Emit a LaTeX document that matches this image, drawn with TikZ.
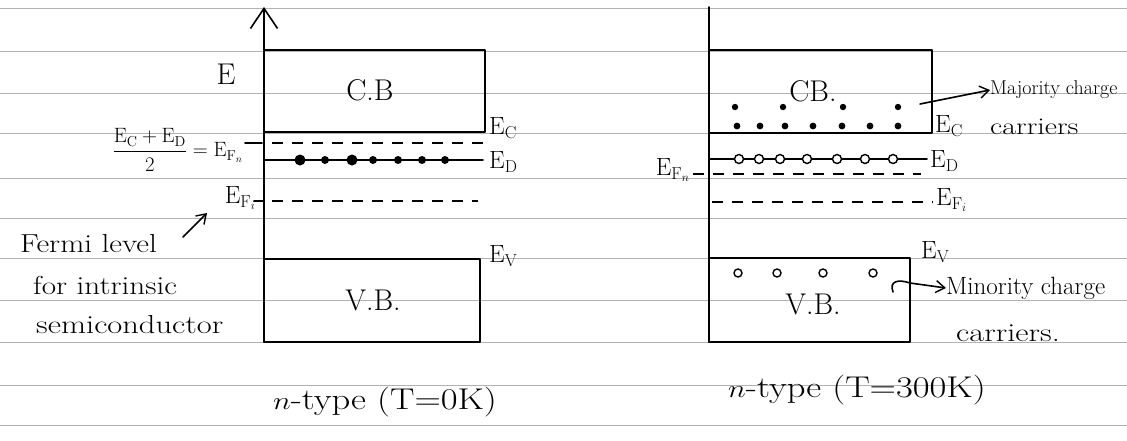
\documentclass[tikz,border=0pt]{standalone}
\usepackage{amsmath}
\usetikzlibrary{arrows.meta}
\newcommand{\wide}[2]{\scalebox{#1}[1]{#2}}
\begin{document}
\begin{tikzpicture}[x=1pt,y=-1pt,
  ink/.style={line width=1.6pt, black, line join=round, line cap=round},
  rule/.style={line width=0.9pt, black!30},
  lvl/.style={line width=1.5pt, black, dash pattern=on 11pt off 9pt},
  lbl/.style={font=\fontsize{24}{28}\selectfont, inner sep=0pt},
  big/.style={font=\fontsize{30}{34}\selectfont, inner sep=0pt},
  note/.style={font=\fontsize{26}{30}\selectfont, inner sep=0pt, anchor=west},
  captxt/.style={font=\fontsize{30}{34}\selectfont, inner sep=0pt},
  barb/.style={-{Straight Barb[length=9pt,width=12pt,line width=1.4pt]}},
  odot/.style={draw=black, line width=1.4pt, fill=white}
]
\useasboundingbox (0,0) rectangle (1127,440);
\fill[white] (0,0) rectangle (1127,440);
% ruled paper
\foreach \y in {8,51,93,133,178,218,258,300,342,385,425}
  \draw[rule] (0,\y) -- (1127,\y);

% ===================== left diagram (T = 0 K) =====================
\coordinate (ax1b) at (264,342);
\coordinate (ax1t) at (264,7);
\draw[ink,-{Straight Barb[length=20pt,width=27pt,line width=1.6pt]}] (ax1b) -- (ax1t);
\draw[ink] (264,50) rectangle (485,132);
\draw[ink] (264,259) rectangle (480,342);
\node[big] (E) at (226,74) {E};
\node[big] (cb1) at (370,90) {C.B};
\node[big] (vb1) at (373,300) {V.B.};
% levels
\draw[ink] (245,143) -- (262,143);
\draw[lvl] (272,143) -- (483,143);
\draw[ink] (264,160) -- (483,160);
\foreach \x/\r in {300/5.5,325/4,352/5.5,373/4,398/4,422/4,445/4}
  \fill (\x,160) circle (\r pt);
\draw[ink] (254,201) -- (264,201);
\draw[lvl] (272,201) -- (478,201);
% labels
\node[lbl,anchor=west] (ec1) at (489,128) {$\mathrm{E_C}$};
\node[lbl,anchor=west] (ed1) at (489,162) {$\mathrm{E_D}$};
\node[lbl,anchor=west] (ev1) at (489,256) {$\mathrm{E_V}$};
\node[font=\fontsize{20}{22}\selectfont,inner sep=0pt,anchor=east] (efn1) at (243,150)
  {$\dfrac{\mathrm{E_C+E_D}}{2}=\mathrm{E}_{\mathrm{F}_n}$};
\node[lbl,anchor=east] (efi1) at (256,198) {$\mathrm{E}_{\mathrm{F}_i}$};
\node[note] (fl1) at (20,244) {\wide{1.2}{Fermi level}};
\node[note] (fl2) at (33,285) {\wide{1.2}{for intrinsic}};
\node[note] (fl3) at (36,325) {\wide{1.25}{semiconductor}};
\coordinate (fa0) at (183,237);
\coordinate (fa1) at (207,213);
\draw[ink,barb] (fa0) -- (fa1);
\node[captxt] (cap1) at (385,402) {\wide{1.22}{$n$-type (T=0K)}};

% ===================== right diagram (T = 300 K) =====================
\coordinate (ax2b) at (709,342);
\coordinate (ax2t) at (709,7);
\draw[ink] (ax2b) -- (ax2t);
\draw[ink] (709,50) rectangle (932,133);
\draw[ink] (709,258) rectangle (910,342);
\node[big] (cb2) at (813,91) {CB.};
\node[big] (vb2) at (813,304) {V.B.};
% electrons in conduction band
\foreach \x in {735,783,843,898}
  \fill (\x,107) circle (3.2pt);
\foreach \x in {737,760,785,813,842,870,898}
  \fill (\x,126) circle (3.4pt);
% donor level with ionised donors
\draw[ink] (709,159) -- (927,159);
\foreach \x in {739,759,780,807,837,865,893}
  \draw[odot] (\x,159) circle (4.5pt);
% Fermi levels
\draw[lvl] (693,174) -- (921,174);
\draw[lvl] (712,202) -- (933,202);
% holes in valence band
\foreach \x in {738,777,823,873}
  \draw[odot] (\x,273) circle (4pt);
% labels
\node[lbl,anchor=west] (ec2) at (935,126) {$\mathrm{E_C}$};
\node[lbl,anchor=west] (ed2) at (930,161) {$\mathrm{E_D}$};
\node[lbl,anchor=west] (efi2) at (936,200) {$\mathrm{E}_{\mathrm{F}_i}$};
\node[lbl,anchor=west] (ev2) at (921,252) {$\mathrm{E_V}$};
\node[lbl,anchor=east] (efn2) at (690,170) {$\mathrm{E}_{\mathrm{F}_n}$};
\node[font=\fontsize{20}{24}\selectfont,inner sep=0pt,anchor=west] (maj1) at (990,90) {Majority charge};
\node[font=\fontsize{24}{28}\selectfont,inner sep=0pt,anchor=west] (maj2) at (990,127) {\wide{1.25}{carriers}};
\node[font=\fontsize{25}{28}\selectfont,inner sep=0pt,anchor=west] (min1) at (946,288) {Minority charge};
\node[font=\fontsize{26}{30}\selectfont,inner sep=0pt,anchor=west] (min2) at (956,333) {\wide{1.25}{carriers.}};
\coordinate (mj0) at (920,104);
\draw[ink,barb] (mj0) -- (maj1.west);
\coordinate (mn0) at (893,292);
\draw[ink,barb] (mn0) .. controls (889,281) and (898,279) .. (910,283) -- (min1.west);
\node[captxt] (cap2) at (857,390) {\wide{1.22}{$n$-type (T=300K)}};
\end{tikzpicture}
\end{document}
